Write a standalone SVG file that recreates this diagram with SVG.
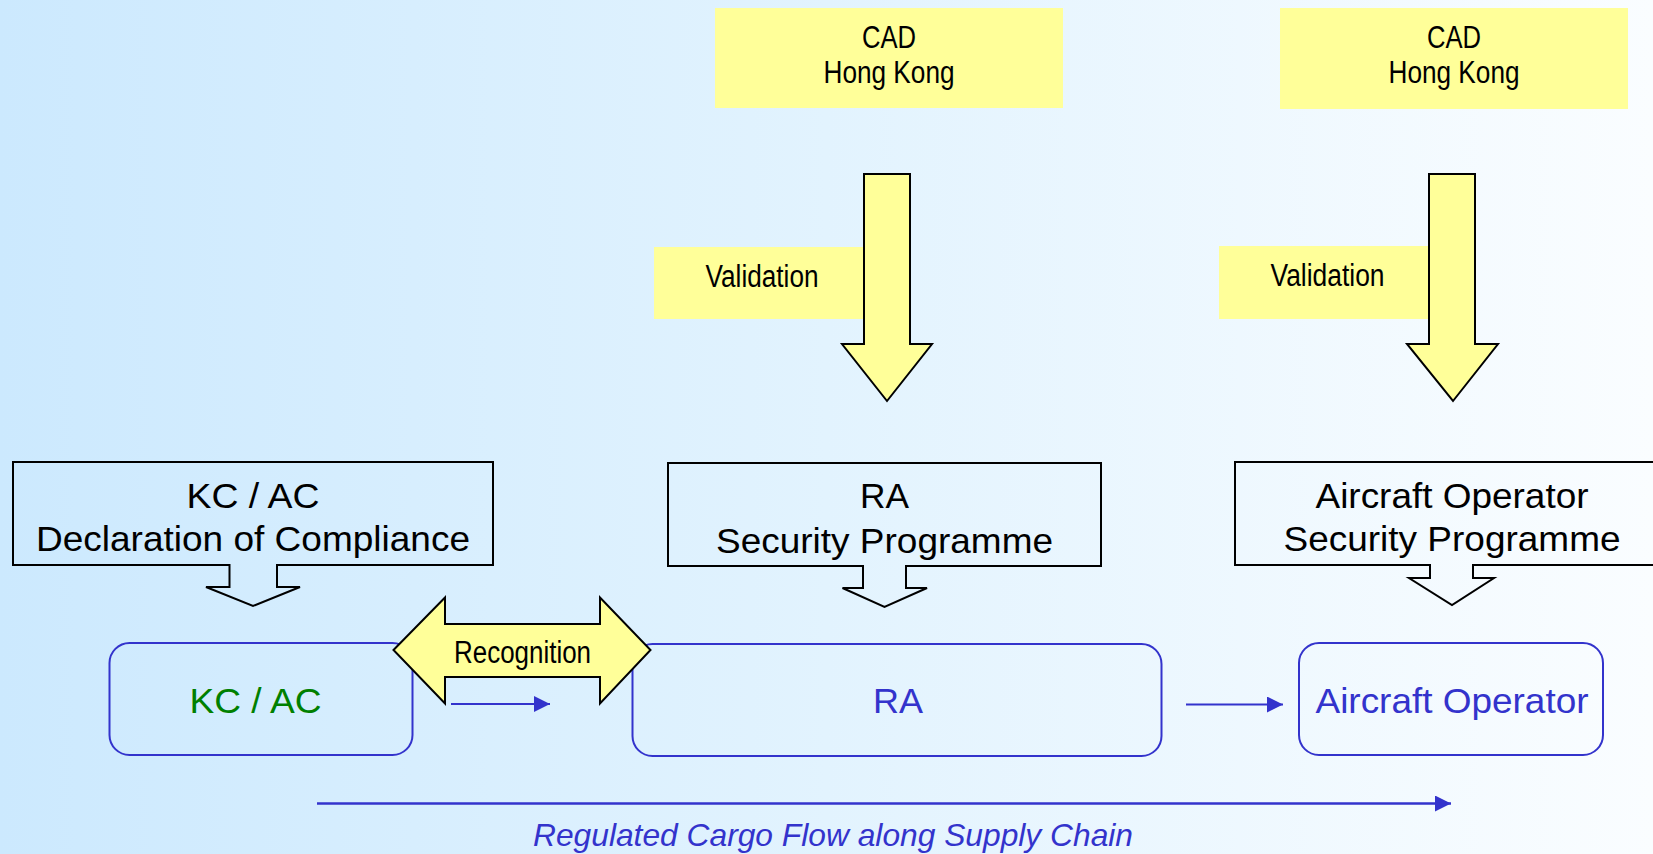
<svg xmlns="http://www.w3.org/2000/svg" width="1653" height="854" viewBox="0 0 1653 854">
<defs>
<linearGradient id="bg" x1="0" y1="0" x2="1" y2="0">
<stop offset="0" stop-color="#cce9fe"/>
<stop offset="0.5" stop-color="#e2f3fe"/>
<stop offset="1" stop-color="#fafdff"/>
</linearGradient>
<marker id="ah" markerUnits="userSpaceOnUse" markerWidth="18" markerHeight="16" refX="16" refY="8" orient="auto">
<path d="M0,0 L16,8 L0,16 Z" fill="#3333cc"/>
</marker>
<style>
.yel{fill:#ffff99;stroke:none}
.yarrow{fill:#ffff99;stroke:#000;stroke-width:2;stroke-linejoin:miter}
.call{fill:none;stroke:#000;stroke-width:2}
.node{fill:none;stroke:#3333cc;stroke-width:2}
.nar{font-family:"Liberation Sans Narrow","Liberation Sans",Arial,sans-serif;font-size:31px;fill:#000;text-anchor:middle}
.big{font-family:"Liberation Sans",Arial,sans-serif;font-size:35px;fill:#000;text-anchor:middle}
.blue{fill:#3333cc}
.green{fill:#008000}
.conn{stroke:#3333cc;stroke-width:2;fill:none;marker-end:url(#ah)}
.flow{font-family:"Liberation Sans",Arial,sans-serif;font-size:30.5px;font-style:italic;fill:#3333cc;text-anchor:middle}
</style>
</defs>
<rect x="0" y="0" width="1653" height="854" fill="url(#bg)"/>

<g id="cad1">
<rect class="yel" x="715" y="8" width="348" height="100"/>
<text class="nar" x="889" y="48" textLength="54" lengthAdjust="spacingAndGlyphs">CAD</text>
<text class="nar" x="889" y="83" textLength="131" lengthAdjust="spacingAndGlyphs">Hong Kong</text>
</g>
<g id="cad2">
<rect class="yel" x="1280" y="8" width="348" height="101"/>
<text class="nar" x="1454" y="48" textLength="54" lengthAdjust="spacingAndGlyphs">CAD</text>
<text class="nar" x="1454" y="83" textLength="131" lengthAdjust="spacingAndGlyphs">Hong Kong</text>
</g>

<g id="validation1">
<rect class="yel" x="654" y="247" width="215" height="72"/>
<path class="yarrow" d="M864,174 H910 V344 H932 L887,401 L842,344 H864 Z"/>
<text class="nar" x="762" y="287" textLength="113" lengthAdjust="spacingAndGlyphs">Validation</text>
</g>
<g id="validation2">
<rect class="yel" x="1219" y="246" width="215" height="73"/>
<path class="yarrow" d="M1429,174 H1475 V344 H1498 L1453,401 L1407,344 H1429 Z"/>
<text class="nar" x="1327.5" y="286" textLength="114" lengthAdjust="spacingAndGlyphs">Validation</text>
</g>

<g id="kcac-doc">
<path class="call" d="M13,462 H493 V565 H277 V587 H300 L253,606 L206,587 H229.5 V565 H13 Z"/>
<text class="big" x="253" y="508" textLength="133" lengthAdjust="spacingAndGlyphs">KC / AC</text>
<text class="big" x="253" y="551" textLength="434" lengthAdjust="spacingAndGlyphs">Declaration of Compliance</text>
</g>
<g id="ra-sp">
<path class="call" d="M668,463 H1101 V566 H906 V588 H927 L884.5,607 L842.5,588 H863 V566 H668 Z"/>
<text class="big" x="884.5" y="508" textLength="49" lengthAdjust="spacingAndGlyphs">RA</text>
<text class="big" x="884.5" y="553" textLength="337" lengthAdjust="spacingAndGlyphs">Security Programme</text>
</g>
<g id="ao-sp">
<path class="call" d="M1235,462 H1665 V565 H1473 V578 H1494 L1452,605 L1409,578 H1430 V565 H1235 Z"/>
<text class="big" x="1452" y="508" textLength="273" lengthAdjust="spacingAndGlyphs">Aircraft Operator</text>
<text class="big" x="1452" y="551" textLength="337" lengthAdjust="spacingAndGlyphs">Security Programme</text>
</g>

<g id="kcac">
<rect class="node" x="109.5" y="643" width="303" height="112" rx="20" ry="20"/>
<text class="big green" x="255.5" y="713" textLength="132" lengthAdjust="spacingAndGlyphs">KC / AC</text>
</g>
<g id="ra">
<rect class="node" x="632.5" y="644" width="529" height="112" rx="20" ry="20"/>
<text class="big blue" x="898" y="713" textLength="50" lengthAdjust="spacingAndGlyphs">RA</text>
</g>
<g id="ao">
<rect class="node" x="1299" y="643" width="304" height="112" rx="20" ry="20"/>
<text class="big blue" x="1452" y="713" textLength="273" lengthAdjust="spacingAndGlyphs">Aircraft Operator</text>
</g>

<g id="recognition">
<path class="yarrow" d="M393.5,650 L445,597.5 V624 H600 V597.5 L650.5,650 L600,703.5 V677 H445 V703.5 Z"/>
<text class="nar" x="522.5" y="663" textLength="137" lengthAdjust="spacingAndGlyphs">Recognition</text>
</g>

<g id="connectors">
<line class="conn" x1="451" y1="704" x2="550" y2="704"/>
<line class="conn" x1="1186" y1="704.5" x2="1283" y2="704.5"/>
<line class="conn" x1="317" y1="803.5" x2="1451" y2="803.5" style="stroke-width:2.5"/>
</g>
<text class="flow" x="833" y="846" textLength="600" lengthAdjust="spacingAndGlyphs">Regulated Cargo Flow along Supply Chain</text>
</svg>
